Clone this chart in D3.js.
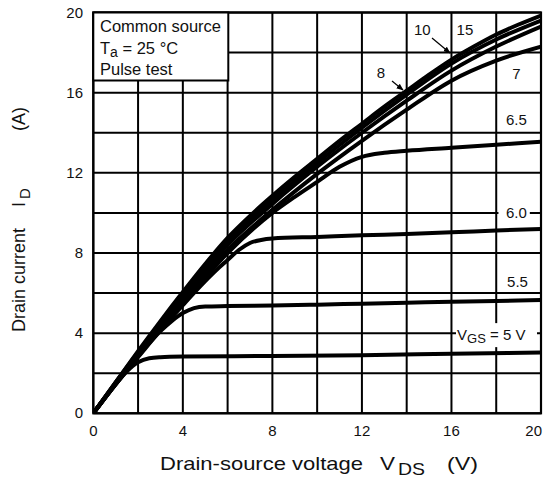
<!DOCTYPE html>
<html>
<head>
<meta charset="utf-8">
<script src="https://cdn.jsdelivr.net/npm/d3@7"></script>
<style>
  body { margin: 0; background: #fff; }
  text { font-family: "Liberation Sans", Arial, sans-serif; fill: #111; }
</style>
</head>
<body>
<svg id="chart" width="543" height="489"></svg>
<script>
// axis ticks and grid
const xTicks = [0, 4, 8, 12, 16, 20];
const yTicks = [0, 4, 8, 12, 16, 20];
const gridVals = d3.range(0, 21, 2);

// I_D (A) vs V_DS (V), one array per V_GS
const vgs15 = [[0,0],[1,1.55],[2,3.1],[3,4.6],[4,6.05],[5,7.45],[6,8.75],[7,9.85],[8,10.85],[9,11.8],[10,12.7],[11,13.6],[12,14.45],[13,15.3],[14,16.1],[15,16.9],[16,17.65],[17,18.3],[18,18.9],[19,19.4],[20,19.85]];
const vgs10 = [[0,0],[2,3.05],[4,5.9],[6,8.6],[8,10.65],[10,12.5],[12,14.25],[14,15.9],[16,17.45],[18,18.65],[20,19.6]];
const vgs8  = [[0,0],[2,3.0],[4,5.75],[6,8.4],[8,10.45],[10,12.3],[12,14.0],[14,15.6],[16,17.1],[18,18.3],[20,19.3]];
const vgs7  = [[0,0],[2,2.95],[4,5.6],[6,8.15],[8,10.15],[10,11.95],[12,13.6],[14,15.15],[16,16.6],[18,17.6],[20,18.3]];
const vgs65 = [[0,0],[2,2.9],[4,5.5],[6,8.0],[8,10.0],[9,10.8],[10,11.55],[11,12.3],[12,12.8],[13,13.0],[14,13.1],[16,13.25],[18,13.4],[20,13.55]];
const vgs60 = [[0,0],[2,2.85],[4,5.4],[5,6.6],[5.5,7.15],[6,7.65],[6.5,8.15],[7,8.5],[7.5,8.65],[8,8.72],[10,8.8],[12,8.88],[14,8.95],[16,9.03],[18,9.12],[20,9.2]];
const vgs55 = [[0,0],[1,1.45],[2,2.8],[3,4.1],[3.5,4.6],[4,5.0],[4.5,5.25],[5,5.33],[6,5.35],[8,5.38],[10,5.42],[12,5.47],[14,5.52],[16,5.57],[18,5.61],[20,5.65]];
const vgs50 = [[0,0],[1,1.45],[1.5,2.1],[2,2.55],[2.5,2.75],[3,2.8],[4,2.83],[8,2.86],[12,2.9],[16,2.97],[20,3.03]];

const curves = [vgs50, vgs55, vgs60, vgs65, vgs7, vgs8, vgs10, vgs15];

const svg = d3.select("#chart");

// scales
const x = d3.scaleLinear().domain([0, 20]).range([93.3, 541]);
const y = d3.scaleLinear().domain([0, 20]).range([413.3, 12.5]);

svg.append("clipPath").attr("id", "plotClip")
  .append("rect")
  .attr("x", x(0)).attr("y", y(20))
  .attr("width", x(20) - x(0)).attr("height", y(0) - y(20));

// grid
const grid = svg.append("g").attr("stroke", "#000").attr("stroke-width", 2);
grid.selectAll(".gx").data(gridVals).join("line")
  .attr("x1", d => x(d)).attr("x2", d => x(d))
  .attr("y1", y(0)).attr("y2", y(20));
grid.selectAll(".gy").data(gridVals).join("line")
  .attr("y1", d => y(d)).attr("y2", d => y(d))
  .attr("x1", x(0)).attr("x2", x(20));

// curves
const line = d3.line()
  .x(d => x(d[0])).y(d => y(d[1]))
  .curve(d3.curveMonotoneX);

svg.append("g").attr("clip-path", "url(#plotClip)")
  .selectAll("path").data(curves).join("path")
  .attr("d", line)
  .attr("fill", "none")
  .attr("stroke", "#000")
  .attr("stroke-width", 4)
  .attr("stroke-linejoin", "round");

// white boxes breaking grid lines behind labels
svg.append("rect").attr("x", x(18.1)).attr("y", y(10.4))
  .attr("width", x(19.5) - x(18.1)).attr("height", 14).attr("fill", "#fff");
svg.append("rect").attr("x", 456).attr("y", y(4.5))
  .attr("width", 81).attr("height", 24).attr("fill", "#fff");

// frame
svg.append("rect")
  .attr("x", x(0)).attr("y", y(20))
  .attr("width", x(20) - x(0)).attr("height", y(0) - y(20))
  .attr("fill", "none").attr("stroke", "#000").attr("stroke-width", 2.2);

// tick labels
svg.append("g").selectAll("text").data(xTicks).join("text")
  .attr("x", d => d === 20 ? 542 : x(d)).attr("y", 436)
  .attr("text-anchor", d => d === 20 ? "end" : "middle")
  .attr("font-size", 15)
  .text(d => d);

svg.append("g").selectAll("text").data(yTicks).join("text")
  .attr("x", 83).attr("y", d => y(d) + 5)
  .attr("text-anchor", "end")
  .attr("font-size", 15)
  .text(d => d);

// axis titles (x title is drawn a bit wide, like the original)
const xt = svg.append("g").attr("font-size", 19);
xt.append("text").attr("x", 160).attr("y", 470)
  .attr("textLength", 203).attr("lengthAdjust", "spacingAndGlyphs")
  .text("Drain-source voltage");
xt.append("text").attr("x", 380).attr("y", 470)
  .attr("textLength", 15).attr("lengthAdjust", "spacingAndGlyphs").text("V");
xt.append("text").attr("x", 398).attr("y", 475).attr("font-size", 17)
  .attr("textLength", 27).attr("lengthAdjust", "spacingAndGlyphs").text("DS");
xt.append("text").attr("x", 447).attr("y", 470)
  .attr("textLength", 31).attr("lengthAdjust", "spacingAndGlyphs").text("(V)");

const yt = svg.append("text")
  .attr("transform", "translate(25,332) rotate(-90)")
  .attr("font-size", 18);
yt.append("tspan").text("Drain current");
yt.append("tspan").attr("dx", 21).text("I");
yt.append("tspan").attr("dx", 3).attr("dy", 5).attr("font-size", 15).text("D");
yt.append("tspan").attr("dx", 57).attr("dy", -5).text("(A)");

// legend box
svg.append("rect")
  .attr("x", x(0)).attr("y", y(20))
  .attr("width", 135).attr("height", 68)
  .attr("fill", "#fff").attr("stroke", "#000").attr("stroke-width", 2);
svg.append("text").attr("x", 100).attr("y", 32).attr("font-size", 16.5).text("Common source");
const ta = svg.append("text").attr("x", 100).attr("y", 54).attr("font-size", 16.5);
ta.append("tspan").text("T");
ta.append("tspan").attr("dy", 3).attr("font-size", 14).text("a");
ta.append("tspan").attr("dy", -3).text(" = 25 °C");
svg.append("text").attr("x", 100).attr("y", 75).attr("font-size", 16.5).text("Pulse test");

// curve labels
const lab = svg.append("g").attr("font-size", 15).attr("text-anchor", "middle");
lab.append("text").attr("x", x(14.7)).attr("y", 35).text("10");
lab.append("text").attr("x", x(16.6)).attr("y", 35).text("15");
lab.append("text").attr("x", x(12.85)).attr("y", 78).text("8");
lab.append("text").attr("x", x(18.9)).attr("y", 79).text("7");
lab.append("text").attr("x", x(18.9)).attr("y", 125).text("6.5");
lab.append("text").attr("x", x(18.9)).attr("y", 218).text("6.0");
lab.append("text").attr("x", x(18.95)).attr("y", 287).text("5.5");

const vg = svg.append("text").attr("x", 457).attr("y", 340).attr("font-size", 15);
vg.append("tspan").text("V");
vg.append("tspan").attr("dy", 3).attr("font-size", 13).text("GS");
vg.append("tspan").attr("dy", -3).text(" = 5 V");

// arrows
svg.append("defs").append("marker")
  .attr("id", "arrow").attr("viewBox", "0 0 10 10")
  .attr("refX", 9).attr("refY", 5)
  .attr("markerWidth", 6).attr("markerHeight", 6)
  .attr("orient", "auto")
  .append("path").attr("d", "M0,1 L10,5 L0,9 Z").attr("fill", "#000");

const arrows = [[432, 38, 450, 53], [392, 81, 403, 90]];
svg.append("g").selectAll("line").data(arrows).join("line")
  .attr("x1", d => d[0]).attr("y1", d => d[1])
  .attr("x2", d => d[2]).attr("y2", d => d[3])
  .attr("stroke", "#000").attr("stroke-width", 1.2)
  .attr("marker-end", "url(#arrow)");
</script>
</body>
</html>
